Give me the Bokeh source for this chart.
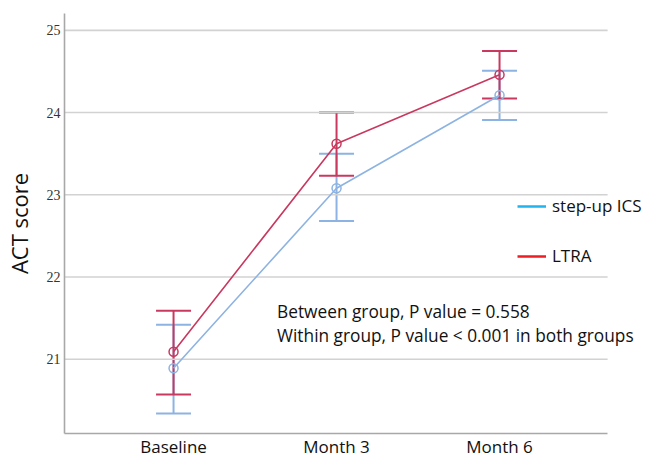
import math
from bokeh.plotting import figure
from bokeh.models import (ColumnDataSource, Whisker, TeeHead, FixedTicker, Legend,
                          LegendItem, Label, Range1d)
from bokeh.embed import file_html
from bokeh.resources import INLINE

# ---- data ----
categories = ["Baseline", "Month 3", "Month 6"]
ics_mean = [20.89, 23.08, 24.21]
ics_upper = [21.42, 23.50, 24.51]
ics_lower = [20.34, 22.68, 23.91]
ltra_mean = [21.09, 23.62, 24.46]
ltra_upper = [21.59, 24.00, 24.75]
ltra_lower = [20.57, 23.23, 24.17]
y_ticks = [21, 22, 23, 24, 25]
legend_labels = ["step-up ICS", "LTRA"]
note_lines = ["Between group, P value = 0.558",
              "Within group, P value < 0.001 in both groups"]

xs = list(range(len(categories)))

ICS_COLOR = "#8db3e2"
LTRA_COLOR = "#c9395f"
FONT = "Open Sans"

X_START, X_END, GRID_END = -0.669, 2.920, 2.663

p = figure(width=649, height=460, output_backend="svg", toolbar_location=None,
           x_range=Range1d(X_START, X_END), y_range=Range1d(20.096, 25.205),
           min_border_left=64, min_border_right=0, min_border_top=13,
           min_border_bottom=23)
p.outline_line_color = None
p.background_fill_color = "white"
p.border_fill_color = "white"

# horizontal gridlines (stop short of the right edge, as in the original)
p.segment(x0=[X_START] * len(y_ticks), x1=[GRID_END] * len(y_ticks),
          y0=y_ticks, y1=y_ticks, line_color="#d2d2d2", line_width=1.6)

src_ics = ColumnDataSource(dict(x=xs, y=ics_mean, up=ics_upper, lo=ics_lower))
src_ltra = ColumnDataSource(dict(x=xs, y=ltra_mean, up=ltra_upper, lo=ltra_lower))

for src, col in [(src_ics, ICS_COLOR), (src_ltra, LTRA_COLOR)]:
    w = Whisker(source=src, base="x", upper="up", lower="lo", dimension="height",
                line_color=col, line_width=2,
                upper_head=TeeHead(size=35, line_color=col, line_width=2),
                lower_head=TeeHead(size=35, line_color=col, line_width=2))
    p.add_layout(w)
    p.line("x", "y", source=src, line_color=col, line_width=1.6)
    p.scatter("x", "y", source=src, marker="circle", size=9, line_color=col,
              line_width=1.5, fill_alpha=0)

# legend with dummy renderers
r1 = p.line(x=[math.nan], y=[math.nan], line_color="#1fb4ee", line_width=2.5)
r2 = p.line(x=[math.nan], y=[math.nan], line_color="#ee1d23", line_width=2.5)
legend = Legend(items=[LegendItem(label=legend_labels[0], renderers=[r1]),
                       LegendItem(label=legend_labels[1], renderers=[r2])],
                location=(453, 166), orientation="vertical",
                background_fill_alpha=0, border_line_alpha=0,
                padding=0, margin=0, spacing=27, glyph_width=29,
                label_standoff=6, label_text_font=FONT,
                label_text_font_size="17px", label_text_color="#111111")
p.add_layout(legend, "center")

# notes
for i, line in enumerate(note_lines):
    p.add_layout(Label(x=0.635, y=21.58 - i * 0.289, text=line, text_font=FONT,
                       text_font_size="17.3px", text_baseline="middle",
                       text_color="#111111"))

# axes
p.xgrid.grid_line_color = None
p.ygrid.grid_line_color = None

p.yaxis.ticker = FixedTicker(ticks=y_ticks)
p.yaxis.axis_line_color = "#a8a8a8"
p.yaxis.axis_line_width = 1.6
p.yaxis.major_tick_line_color = None
p.yaxis.minor_tick_line_color = None
p.yaxis.major_tick_out = 0
p.yaxis.major_tick_in = 0
p.yaxis.major_label_standoff = 4
p.yaxis.major_label_text_font = "Liberation Sans Narrow"
p.yaxis.major_label_text_font_size = "14px"
p.yaxis.major_label_text_color = "#333333"
p.yaxis.axis_label = "ACT score"
p.yaxis.axis_label_text_font = FONT
p.yaxis.axis_label_text_font_style = "normal"
p.yaxis.axis_label_text_font_size = "22px"
p.yaxis.axis_label_text_color = "#111111"
p.yaxis.axis_label_standoff = 10

p.xaxis.ticker = FixedTicker(ticks=xs)
p.xaxis.bounds = (X_START, GRID_END)
p.xaxis.major_label_overrides = {i: c for i, c in zip(xs, categories)}
p.xaxis.axis_line_color = "#a8a8a8"
p.xaxis.axis_line_width = 1.6
p.xaxis.major_tick_line_color = None
p.xaxis.minor_tick_line_color = None
p.xaxis.major_tick_out = 0
p.xaxis.major_tick_in = 0
p.xaxis.major_label_standoff = 1
p.xaxis.major_label_text_font = FONT
p.xaxis.major_label_text_font_size = "17px"
p.xaxis.major_label_text_color = "#111111"

open("out.html", "w").write(file_html(p, INLINE))
